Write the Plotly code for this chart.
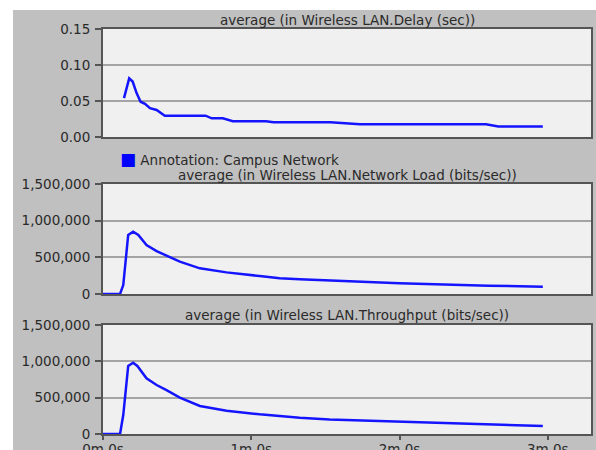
import plotly.graph_objects as go

# ---- data ----
delay_t = [8.5, 10.6, 12.0, 13.6, 15.2, 17.0, 19.0, 21.7, 25.0, 41.5, 44.0, 48.5, 52.5, 66.0, 69.0, 80.0, 92.0, 104.0, 155.0, 160.0, 178.0]
delay_v = [0.054, 0.0815, 0.077, 0.061, 0.049, 0.046, 0.040, 0.0375, 0.0296, 0.0296, 0.026, 0.026, 0.022, 0.022, 0.0205, 0.0205, 0.0205, 0.0176, 0.0176, 0.0145, 0.0145]

load_t = [0, 6.9, 8.2, 10.2, 12.2, 14.3, 17.6, 21.7, 25.7, 31.1, 39.2, 50, 63.4, 71.5, 79.6, 91.7, 120, 156, 178]
load_v = [0, 0, 122000, 805000, 850000, 805000, 668000, 586000, 523000, 441000, 350000, 295000, 245000, 214000, 200000, 181000, 146000, 114000, 100000]

tput_t = [0, 6.9, 8.2, 10.2, 12.2, 13.9, 17.6, 21.7, 25.7, 31.1, 39.2, 50, 63.4, 71.5, 79.6, 91.7, 120, 147, 178]
tput_v = [0, 0, 261000, 936000, 981000, 936000, 766000, 674000, 605000, 500000, 385000, 321000, 271000, 245000, 225000, 200000, 170000, 138000, 110000]

x_tickvals = [0, 60, 120, 180]
x_ticktext = ["0m 0s", "1m 0s", "2m 0s", "3m 0s"]
delay_ticks = [0.0, 0.05, 0.10, 0.15]
bits_ticks = [0, 500000, 1000000, 1500000]

titles = [
    "average (in Wireless LAN.Delay (sec))",
    "average (in Wireless LAN.Network Load (bits/sec))",
    "average (in Wireless LAN.Throughput (bits/sec))",
]
legend_text = "Annotation: Campus Network"

W, H = 596, 450
FONT = "DejaVu Sans"
FS = 13.5
TXT = "#2a2a2a"
LINE = "#1414ff"

fig = go.Figure()
fig.add_trace(go.Scatter(x=delay_t, y=delay_v, mode="lines", line=dict(color=LINE, width=2.5), xaxis="x", yaxis="y", showlegend=False))
fig.add_trace(go.Scatter(x=load_t, y=load_v, mode="lines", line=dict(color=LINE, width=2.5), xaxis="x2", yaxis="y2", showlegend=False))
fig.add_trace(go.Scatter(x=tput_t, y=tput_v, mode="lines", line=dict(color=LINE, width=2.5), xaxis="x3", yaxis="y3", showlegend=False))

xl, xr = 103 / W, 591 / W
def ydom(top, bot):
    return [1 - bot / H, 1 - top / H]

common_x = dict(range=[0, 197.5], domain=[xl, xr], showgrid=False, zeroline=False,
                showline=True, mirror=True, linecolor="#555555", linewidth=2,
                automargin=False, fixedrange=True)
common_y = dict(showgrid=True, gridcolor="#a4a4a4", gridwidth=1.5, zeroline=False,
                showline=True, mirror=True, linecolor="#555555", linewidth=2,
                ticks="outside", ticklen=6, tickwidth=1.5, tickcolor="#555555",
                tickfont=dict(family=FONT, size=FS, color=TXT),
                ticklabelstandoff=2, automargin=False, fixedrange=True)

fig.update_layout(
    width=W, height=H,
    margin=dict(l=0, r=0, t=0, b=0, pad=0, autoexpand=False),
    paper_bgcolor="#c0c0c0",
    plot_bgcolor="#f0f0f0",
    font=dict(family=FONT, size=FS, color=TXT),
    xaxis=dict(common_x, anchor="y", showticklabels=False),
    yaxis=dict(common_y, anchor="x", domain=ydom(29, 137), range=[0, 0.15],
               tickvals=delay_ticks, tickformat=".2f"),
    xaxis2=dict(common_x, anchor="y2", showticklabels=False),
    yaxis2=dict(common_y, anchor="x2", domain=ydom(184, 294), range=[0, 1500000],
                tickvals=bits_ticks, tickformat=",d"),
    xaxis3=dict(common_x, anchor="y3", tickvals=x_tickvals, ticktext=x_ticktext,
                ticks="outside", ticklen=4, tickwidth=1.5, tickcolor="#555555",
                ticklabelstandoff=-2,
                tickfont=dict(family=FONT, size=FS, color=TXT)),
    yaxis3=dict(common_y, anchor="x3", domain=ydom(325, 434), range=[0, 1500000],
                tickvals=bits_ticks, tickformat=",d"),
    shapes=[
        dict(type="rect", xref="paper", yref="paper", x0=0, x1=13 / W, y0=0, y1=1,
             fillcolor="white", line=dict(width=0), layer="below"),
        dict(type="rect", xref="paper", yref="paper", x0=0, x1=1, y0=1 - 10 / H, y1=1,
             fillcolor="white", line=dict(width=0), layer="below"),
    ],
    annotations=[
        dict(text=titles[0], xref="paper", yref="paper", x=347 / W, y=1 - 20 / H,
             showarrow=False, xanchor="center", yanchor="middle"),
        dict(text=titles[1], xref="paper", yref="paper", x=347 / W, y=1 - 175 / H,
             showarrow=False, xanchor="center", yanchor="middle"),
        dict(text=titles[2], xref="paper", yref="paper", x=347 / W, y=1 - 315 / H,
             showarrow=False, xanchor="center", yanchor="middle"),
        dict(text='<span style="color:#0000ff;font-size:17px">■</span> ' + legend_text,
             xref="paper", yref="paper", x=118 / W, y=1 - 159 / H,
             showarrow=False, xanchor="left", yanchor="middle"),
    ],
)

fig.write_html("out.html", config={"displayModeBar": False},
               post_script="document.body.style.margin='0';document.body.style.overflow='hidden';")
